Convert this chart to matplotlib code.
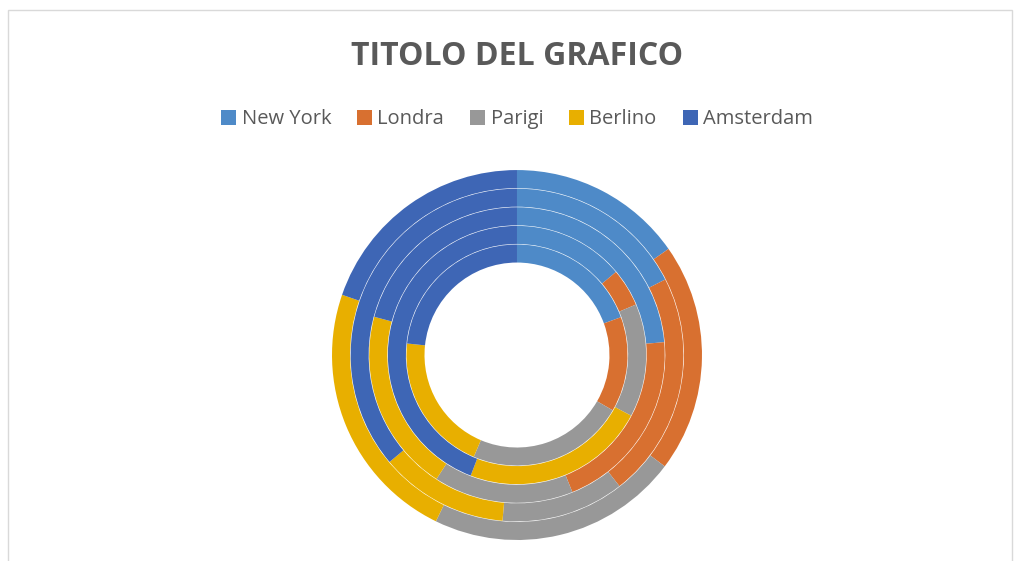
import matplotlib
matplotlib.use('Agg')
import matplotlib.pyplot as plt
from matplotlib.patches import Rectangle

### Data ####################################################
categories = ['New York', 'Londra', 'Parigi', 'Berlino', 'Amsterdam']
# one list per ring, innermost first
serie1 = [70, 50, 83, 73, 84]
serie2 = [50, 17, 51, 83, 159]
serie3 = [85, 73, 55, 72, 75]
serie4 = [63, 79, 43, 45, 130]
serie5 = [55, 72, 79, 83, 71]
colors = ['#4E8AC8', '#D87030', '#989898', '#E8AF00', '#3E66B5']
title = 'TITOLO DEL GRAFICO'
#############################################################

plt.rcParams['font.family'] = ['Open Sans', 'DejaVu Sans']
text_grey = '#595959'

fig = plt.figure(figsize=(10.2, 5.61), dpi=100)
fig.patches.append(Rectangle((0.008, -0.01), 0.984, 0.992, transform=fig.transFigure,
                             fill=False, edgecolor='#D9D9D9', linewidth=1))

ax = fig.add_axes([0.3255, 0.0374, 0.3627, 0.6595])
hole = 0.497
ring_w = (1 - hole) / 5
series = [serie1, serie2, serie3, serie4, serie5]
for i, vals in enumerate(series):
    r = hole + (i + 1) * ring_w
    wedges, _ = ax.pie(vals, radius=r, colors=colors, startangle=90, counterclock=False,
                       wedgeprops=dict(width=ring_w - 0.003, linewidth=0))
    if i == 0:
        handles = wedges

ax.set_xlim(-1, 1)
ax.set_ylim(-1, 1)
ax.set_aspect('equal')
ax.axis('off')

fig.text(0.507, 0.900, title, ha='center', va='center', fontsize=23,
         fontweight='bold', color=text_grey)
fig.legend(handles, categories, loc='center', bbox_to_anchor=(0.507, 0.787), ncol=5,
           frameon=False, fontsize=14.5, labelcolor=text_grey, handlelength=0.75,
           handleheight=0.75, handletextpad=0.25, columnspacing=1.3)

plt.savefig('out.png', dpi=100)
plt.close()
